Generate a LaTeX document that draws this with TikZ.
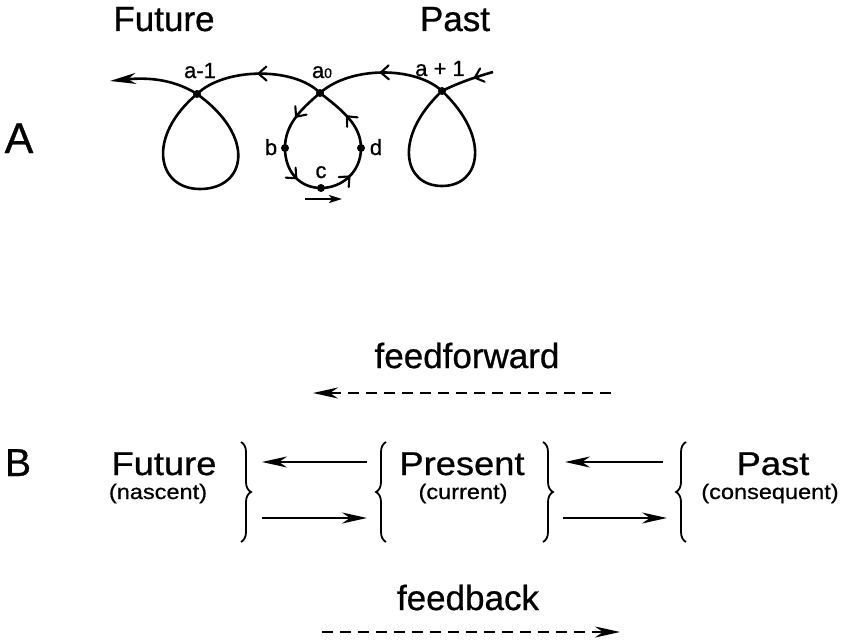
\documentclass[tikz,border=0pt]{standalone}
\usepackage{fontspec}
\setmainfont[FakeBold=0.7]{Liberation Sans}
\usetikzlibrary{arrows.meta,decorations.markings,decorations.pathreplacing}
\newcommand{\myfs}[1]{\fontsize{#1}{#1}\selectfont}
\begin{document}
\begin{tikzpicture}[x=1pt,y=-1pt,
  curve/.style={line width=2.6pt},
  dot/.style={circle,fill,inner sep=0pt,minimum size=8pt},
  midbarb/.style={postaction={decorate},decoration={markings,mark=at position #1 with {\draw[line width=2.1pt,line cap=round,line join=miter] (-8pt,7pt) -- (0pt,0pt) -- (-8pt,-7pt);}}},
  bigtip/.style={-{Stealth[length=26pt,width=11pt,inset=8pt]}},
  lab/.style={font=\myfs{22},inner sep=0pt,anchor=base},
  big/.style={font=\myfs{35},inner sep=0pt,anchor=base},
  word/.style={font=\myfs{33},inner sep=0pt,anchor=base},
  sub/.style={font=\myfs{21},inner sep=0pt,anchor=base},
  bracedeco/.style={line width=1.8pt,decorate,decoration={brace,amplitude=10pt}},
  arr/.style={line width=2.2pt,-{Stealth[length=25pt,width=11pt,inset=8pt]}},
  darr/.style={line width=2.4pt,dash pattern=on 11pt off 7pt,-{Stealth[length=25pt,width=11pt,inset=8pt]}}
]
\useasboundingbox (0,0) rectangle (851,642);

% ---------- Part A ----------
\node[font=\myfs{43},inner sep=0pt,anchor=base] (A) at (19,153) {A};
\node[big] (tfut) at (164,31) {Future};
\node[big] (tpast) at (455,31) {Past};

\node[dot] (am1) at (197,94) {};
\node[dot] (a0) at (320,93) {};
\node[dot] (ap1) at (442,91) {};
\node[dot] (b) at (285,148) {};
\node[dot] (c) at (321,188) {};
\node[dot] (d) at (361,148) {};
\coordinate (rs) at (493,72);
\coordinate (lt) at (110,81);

\draw[curve,midbarb=0.35] (rs) .. controls (472,78) and (456,84) .. (ap1.center);
\draw[curve] (ap1.center) .. controls (393,137) and (403,186) .. (442,186) .. controls (481,186) and (491,137) .. (ap1.center);
\draw[curve,midbarb=0.5] (ap1.center) .. controls (415,66) and (350,66) .. (a0.center);
\draw[curve,midbarb=0.5] (a0.center) .. controls (295,67) and (225,67) .. (am1.center);
\draw[curve] (am1.center) .. controls (146,137) and (157,189) .. (200,189) .. controls (246,189) and (257,137) .. (am1.center);
\draw[curve,bigtip] (am1.center) .. controls (175,80) and (150,77) .. (lt);

\draw[curve,midbarb=0.5] (a0.center) .. controls (300,110) and (285,125) .. (b.center);
\draw[curve,midbarb=0.55] (b.center) .. controls (285,172) and (300,188) .. (c.center);
\draw[curve,midbarb=0.5] (c.center) .. controls (342,188) and (361,172) .. (d.center);
\draw[curve,midbarb=0.5] (d.center) .. controls (361,125) and (342,110) .. (a0.center);

\coordinate (ca1) at (305,199);
\coordinate (ca2) at (342,199);
\draw[line width=1.8pt,-{Stealth[length=13pt,width=8pt,inset=3pt]}] (ca1) -- (ca2);

\node[lab] (lam1) at (200,78) {a-1};
\node[lab] (la0) at (322,78) {a{\myfs{14}0}};
\node[lab] (lap1) at (440,76) {a + 1};
\node[lab] (lb) at (271,155) {b};
\node[lab] (lc) at (321,178) {c};
\node[lab] (ld) at (376,155) {d};

% ---------- Part B ----------
\node[font=\myfs{39},inner sep=0pt,anchor=base] (B) at (18,476) {B};

\node[word] (fut) at (164,475) {\scalebox{1.1}[1]{Future}};
\node[sub] (nas) at (158,499) {\scalebox{1.12}[1]{(nascent)}};
\node[word] (pres) at (462,475) {\scalebox{1.1}[1]{Present}};
\node[sub] (cur) at (463,499) {\scalebox{1.12}[1]{(current)}};
\node[word] (past) at (773,475) {\scalebox{1.1}[1]{Past}};
\node[sub] (cons) at (770,499) {\scalebox{1.12}[1]{(consequent)}};

\draw[bracedeco] (241,442) -- (241,542);
\draw[bracedeco] (386,542) -- (386,442);
\draw[bracedeco] (543,442) -- (543,542);
\draw[bracedeco] (686,542) -- (686,442);

\coordinate (ul1) at (367,462); \coordinate (ul2) at (262,462);
\coordinate (ll1) at (262,518); \coordinate (ll2) at (367,518);
\coordinate (ur1) at (663,462); \coordinate (ur2) at (565,462);
\coordinate (lr1) at (563,518); \coordinate (lr2) at (667,518);
\draw[arr] (ul1) -- (ul2);
\draw[arr] (ll1) -- (ll2);
\draw[arr] (ur1) -- (ur2);
\draw[arr] (lr1) -- (lr2);

\node[big] (ffw) at (467,368) {feedforward};
\coordinate (ff1) at (611,393); \coordinate (ff2) at (313,393);
\draw[darr] (ff1) -- (ff2);

\node[big] (fbk) at (468,610) {feedback};
\coordinate (fb1) at (322,632); \coordinate (fb2) at (620,632);
\draw[darr] (fb1) -- (fb2);
\end{tikzpicture}
\end{document}
